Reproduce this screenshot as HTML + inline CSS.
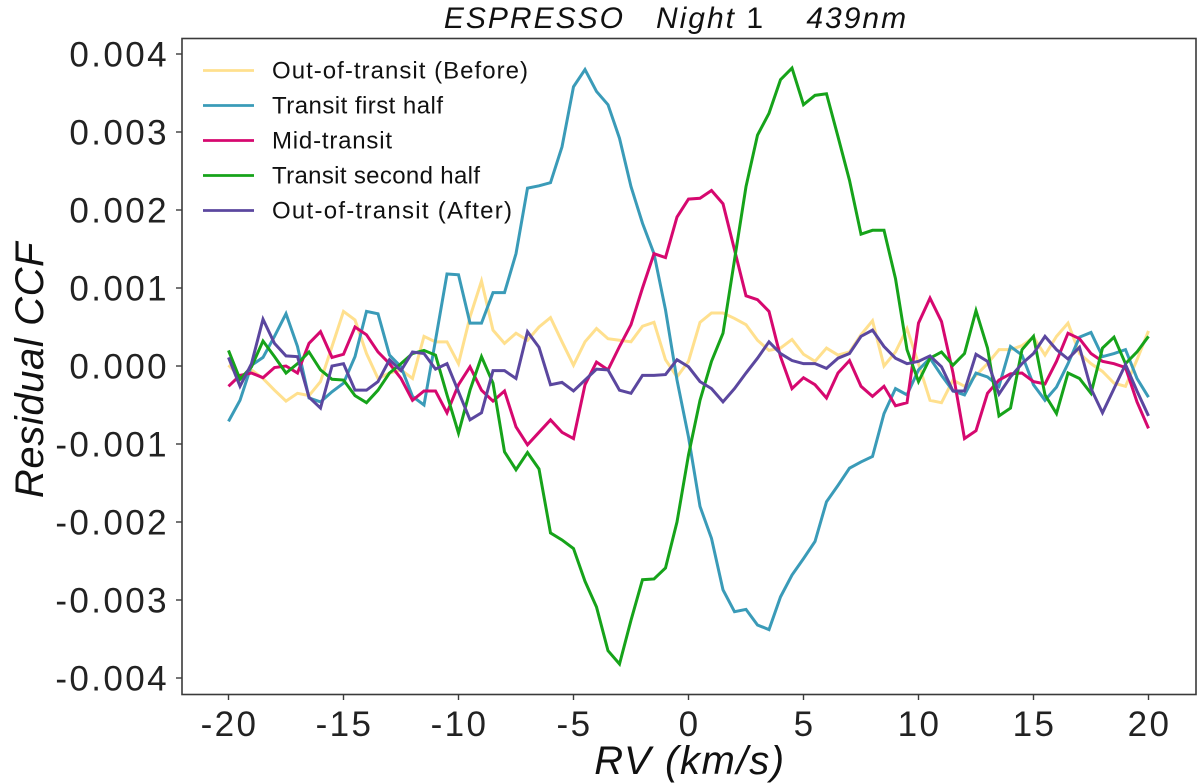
<!DOCTYPE html>
<html>
<head>
<meta charset="utf-8">
<title>ESPRESSO Night 1 439nm</title>
<style>
html,body{margin:0;padding:0;background:#fff;}
svg{display:block;font-family:"Liberation Sans",sans-serif;}
</style>
</head>
<body>
<svg id="chart" xmlns="http://www.w3.org/2000/svg" width="1200" height="784" viewBox="0 0 1200 784">
  <rect x="0" y="0" width="1200" height="784" fill="#fff"/>
  <text x="676" y="28" text-anchor="middle" font-size="30" fill="#111" xml:space="preserve" letter-spacing="2"><tspan font-style="italic">ESPRESSO   Night </tspan><tspan>1</tspan><tspan font-style="italic">    439nm</tspan></text>
  <text transform="translate(43,370) rotate(-90)" text-anchor="middle" font-size="40" font-style="italic" fill="#111" letter-spacing="0.6">Residual CCF</text>
  <text x="690" y="774" text-anchor="middle" font-size="40" font-style="italic" fill="#111" letter-spacing="1.6">RV (km/s)</text>
  <g id="ticks"></g>
  <g id="series"></g>
  <g id="legend"></g>
  <rect x="182" y="38.5" width="1014" height="656" fill="none" stroke="#3a3a3a" stroke-width="1.6"/>
</svg>
<script>
// Velocity grid: -20..20 km/s in 0.5 steps (81 samples)
const velocityStart = -20;
const velocityStep = 0.5;
const xTickValues = [-20, -15, -10, -5, 0, 5, 10, 15, 20];
const yTickValues = [-4, -3, -2, -1, 0, 1, 2, 3, 4];
const yTickLabels = ["-0.004", "-0.003", "-0.002", "-0.001", "0.000", "0.001", "0.002", "0.003", "0.004"];

// Residual CCF values in units of 1e-3
const outBefore = [0.01,-0.14,-0.05,-0.16,-0.31,-0.45,-0.35,-0.38,-0.20,0.25,0.70,0.59,0.16,-0.16,-0.09,-0.05,-0.16,0.38,0.31,0.31,0.03,0.63,1.09,0.46,0.29,0.42,0.33,0.50,0.62,0.31,0.01,0.31,0.48,0.35,0.33,0.31,0.51,0.56,0.08,-0.14,0.06,0.56,0.68,0.68,0.61,0.53,0.33,0.20,0.23,0.34,0.15,0.06,0.23,0.14,0.18,0.40,0.58,0.00,0.18,0.48,0.03,-0.44,-0.47,-0.18,-0.26,-0.12,0.03,0.21,0.21,0.26,0.37,0.14,0.38,0.55,0.16,0.03,-0.07,-0.22,-0.26,0.08,0.45];
const firstHalf = [-0.71,-0.44,0.01,0.11,0.38,0.67,0.25,-0.41,-0.46,-0.33,-0.22,0.12,0.70,0.67,0.14,-0.01,-0.39,-0.50,0.33,1.18,1.17,0.55,0.55,0.94,0.94,1.44,2.28,2.31,2.35,2.81,3.58,3.80,3.52,3.35,2.92,2.30,1.83,1.44,0.72,-0.18,-0.91,-1.80,-2.21,-2.87,-3.15,-3.12,-3.32,-3.38,-2.96,-2.68,-2.47,-2.25,-1.74,-1.53,-1.31,-1.23,-1.16,-0.61,-0.29,-0.37,-0.05,0.10,-0.12,-0.32,-0.37,-0.09,-0.14,-0.26,0.25,0.14,-0.24,-0.44,-0.27,0.03,0.37,0.43,0.12,0.16,0.21,-0.16,-0.40];
const midTransit = [-0.26,-0.12,-0.09,-0.15,-0.02,0.00,-0.09,0.29,0.44,0.11,0.15,0.50,0.40,0.18,0.03,-0.16,-0.44,-0.32,-0.32,-0.60,-0.24,-0.01,-0.31,-0.45,-0.32,-0.78,-1.01,-0.85,-0.69,-0.85,-0.93,-0.24,0.05,-0.05,0.25,0.53,1.00,1.44,1.39,1.91,2.14,2.15,2.25,2.08,1.49,0.90,0.85,0.70,0.12,-0.29,-0.15,-0.24,-0.41,-0.09,0.07,-0.26,-0.39,-0.26,-0.51,-0.47,0.55,0.87,0.57,-0.09,-0.93,-0.83,-0.35,-0.18,-0.10,-0.09,-0.20,-0.23,0.06,0.42,0.35,0.16,0.06,0.03,-0.02,-0.46,-0.80];
const secondHalf = [0.20,-0.17,-0.01,0.32,0.12,-0.09,0.03,0.18,-0.05,-0.17,-0.18,-0.38,-0.47,-0.31,-0.09,0.03,0.16,0.20,0.14,-0.37,-0.86,-0.31,0.12,-0.22,-1.10,-1.33,-1.11,-1.32,-2.14,-2.23,-2.34,-2.76,-3.09,-3.65,-3.82,-3.26,-2.74,-2.73,-2.59,-2.00,-1.14,-0.44,0.06,0.42,1.36,2.30,2.96,3.24,3.67,3.82,3.35,3.47,3.49,2.94,2.38,1.69,1.74,1.74,1.12,0.21,-0.20,0.10,0.18,0.01,0.16,0.71,0.23,-0.64,-0.54,0.21,0.38,-0.37,-0.61,-0.09,-0.16,-0.35,0.23,0.37,0.03,0.18,0.38];
const outAfter = [0.11,-0.26,0.03,0.60,0.29,0.13,0.12,-0.40,-0.54,0.00,0.03,-0.31,-0.31,-0.20,0.08,-0.06,0.18,0.16,-0.04,0.03,-0.33,-0.69,-0.60,-0.06,-0.06,-0.16,0.44,0.24,-0.24,-0.21,-0.32,-0.18,-0.04,-0.05,-0.31,-0.35,-0.12,-0.12,-0.11,0.08,-0.01,-0.20,-0.29,-0.46,-0.29,-0.09,0.10,0.31,0.16,0.07,0.03,0.03,-0.03,0.10,0.16,0.38,0.46,0.25,0.10,0.03,0.06,0.13,-0.01,-0.32,-0.32,0.15,0.06,-0.36,-0.14,0.03,0.16,0.38,0.21,0.09,0.24,-0.29,-0.60,-0.29,0.02,-0.32,-0.64];

const legendLabels = ["Out-of-transit (Before)", "Transit first half", "Mid-transit", "Transit second half", "Out-of-transit (After)"];
const seriesColors = ["#ffe08e", "#3a9bb8", "#d6086f", "#16a31a", "#5b479f"];
const seriesValues = [outBefore, firstHalf, midTransit, secondHalf, outAfter];

const SVGNS = "http://www.w3.org/2000/svg";
function xScale(v) { return 688.5 + v * 23; }
function yScale(v) { return 366 - v * 78; }
function make(tag, attrs, parent, text) {
  const el = document.createElementNS(SVGNS, tag);
  for (const k in attrs) el.setAttribute(k, attrs[k]);
  if (text !== undefined) el.textContent = text;
  parent.appendChild(el);
  return el;
}

const ticksGroup = document.getElementById("ticks");
xTickValues.forEach(function (v) {
  const mark = make("line", {x1: xScale(v), x2: xScale(v), y1: 694, y2: 700, stroke: "#3a3a3a", "stroke-width": 1.4}, ticksGroup);
  
  
  const label = make("text", {x: xScale(v) + 1, y: 736, "text-anchor": "middle", "font-size": 35, fill: "#222", "letter-spacing": 2.4}, ticksGroup, String(v));
  
  
});
yTickValues.forEach(function (v, i) {
  const mark = make("line", {x1: 176, x2: 182, y1: yScale(v), y2: yScale(v), stroke: "#3a3a3a", "stroke-width": 1.4}, ticksGroup);
  
  
  const label = make("text", {x: 169, y: yScale(v) + 12.5, "text-anchor": "end", "font-size": 35, fill: "#222", "letter-spacing": 2.4}, ticksGroup, yTickLabels[i]);
  
  
});

const seriesGroup = document.getElementById("series");
seriesValues.forEach(function (values, s) {
  const d = values.map(function (v, i) {
    return (i ? "L" : "M") + xScale(velocityStart + i * velocityStep).toFixed(2) + " " + yScale(v).toFixed(2);
  }).join(" ");
  const path = make("path", {d: d, fill: "none", stroke: seriesColors[s], "stroke-width": 3, "stroke-linejoin": "miter"}, seriesGroup);
  
  
});

const legendGroup = document.getElementById("legend");
const legendWidths = [256, 171, 120, 208, 240];
legendLabels.forEach(function (name, i) {
  const y = 70.5 + i * 35;
  const key = make("line", {x1: 203, x2: 254, y1: y, y2: y, stroke: seriesColors[i], "stroke-width": 2.8}, legendGroup);
  
  
  const label = make("text", {x: 272, y: y + 8, "font-size": 24, fill: "#111", textLength: legendWidths[i], lengthAdjust: "spacing"}, legendGroup, name);
  
  
});
</script>
</body>
</html>
